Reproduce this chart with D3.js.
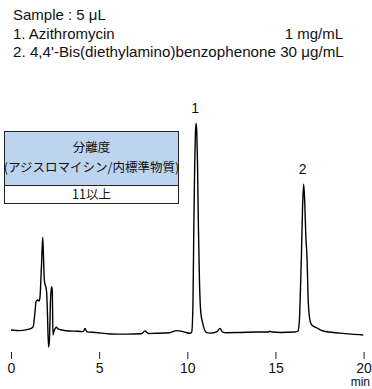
<!DOCTYPE html>
<html><head><meta charset="utf-8">
<script src="https://cdn.jsdelivr.net/npm/d3@7"></script>
<style>
html,body{margin:0;padding:0;background:#fff;}
svg{display:block;}
</style></head>
<body>
<script>
// ---- data ----
const sampleLines = ["Sample : 5 μL", "1. Azithromycin", "2. 4,4'-Bis(diethylamino)benzophenone 30 μg/mL"];
const sampleConc1 = "1 mg/mL";
const tableHeader = ["分離度", "(アジスロマイシン/内標準物質)"];
const tableValue = "11以上";
const xTicks = [0, 5, 10, 15, 20];
const xUnit = "min";
const peakLabels = ["1", "2"];
const peakTimes = [10.5, 16.6];
const peakHeights = [100, 70.5];
// chromatogram trace: retention time (min), signal (arbitrary units)
const times = [0, 0.5, 0.9, 1.15, 1.26, 1.36, 1.42, 1.51, 1.59, 1.64, 1.73, 1.80, 1.84, 1.89, 2.02, 2.07, 2.13, 2.18, 2.24, 2.30, 2.34, 2.38, 2.44, 2.50, 2.58, 2.67, 2.89, 3.3, 3.8, 4.1, 4.2, 4.3, 4.8, 5.62, 6.5, 7.4, 7.6, 7.8, 8.2, 9.0, 9.4, 9.8, 10.15, 10.25, 10.32, 10.37, 10.42, 10.46, 10.50, 10.54, 10.58, 10.63, 10.69, 10.76, 10.87, 11.1, 11.3, 11.7, 11.85, 12.0, 12.23, 13.0, 14.0, 14.6, 14.69, 14.8, 15.3, 16.11, 16.28, 16.36, 16.42, 16.48, 16.54, 16.60, 16.66, 16.72, 16.79, 16.86, 16.95, 17.06, 17.35, 17.71, 18.66, 19.3, 19.98];
const signal = [0, -0.3, 0.2, 0.8, 1.6, 8.7, 13.7, 14.5, 14.0, 15.5, 31.4, 44.9, 36.2, 24.2, 18.5, 7.2, -8.2, -4.8, 14.5, 20.9, 19.3, -2.4, -0.5, 0.7, 1.3, 0.5, 0, -0.5, -0.6, -0.8, 0.8, -0.9, -1.2, -1.9, -2.0, -1.8, -0.5, -1.7, -1.6, -1.3, -0.3, -0.9, -1.6, -1.0, 12, 50, 80, 95, 100, 95, 80, 50, 24, 9, 3.4, -1.3, -1.5, -0.8, 0.8, -1.0, -1.3, -1.2, -1.0, -1.0, -0.6, -1.0, -1.2, -1.0, -0.5, 5, 20, 38, 60, 70.5, 62, 46, 35, 14, 5, 2.4, 1.0, -0.5, -1.5, -2.0, -2.4];

const W = 372, H = 389;
const svg = d3.select("body").append("svg").attr("width", W).attr("height", H);
const font = "'Liberation Sans', Arial, Helvetica, sans-serif";
const cjk = "'Noto Sans CJK JP', 'Noto Sans', sans-serif";

const x = d3.scaleLinear().domain([0, 20]).range([11, 363.6]);
const y = d3.scaleLinear().domain([0, 100]).range([330, 123.3]);

// header text
const hdr = svg.append("g").attr("font-family", font).attr("font-size", 15).attr("fill", "#111");
hdr.append("text").attr("x", 13).attr("y", 20).text(sampleLines[0]);
hdr.append("text").attr("x", 13).attr("y", 38.5).text(sampleLines[1]);
hdr.append("text").attr("x", 343).attr("y", 38.5).attr("text-anchor", "end").text(sampleConc1);
hdr.append("text").attr("x", 13).attr("y", 57).attr("font-size", 15.2).text(sampleLines[2]);

// table
const tb = svg.append("g");
const tx0 = 4.5, tx1 = 178.5, ty0 = 131.5, ty1 = 185.5, ty2 = 203.5;
tb.append("rect").attr("x", tx0).attr("y", ty0).attr("width", tx1 - tx0).attr("height", ty1 - ty0)
  .attr("fill", "#bcd4ee").attr("stroke", "#222").attr("stroke-width", 1);
tb.append("rect").attr("x", tx0).attr("y", ty1).attr("width", tx1 - tx0).attr("height", ty2 - ty1)
  .attr("fill", "#fff").attr("stroke", "#222").attr("stroke-width", 1);
const tcx = (tx0 + tx1) / 2;
tb.append("text").attr("x", tcx).attr("y", 152).attr("text-anchor", "middle")
  .attr("font-family", cjk).attr("font-size", 12.5).attr("fill", "#111").text(tableHeader[0]);
tb.append("text").attr("x", tcx).attr("y", 172).attr("text-anchor", "middle")
  .attr("font-family", cjk).attr("font-size", 12.5).attr("fill", "#111").text(tableHeader[1]);
tb.append("text").attr("x", tcx).attr("y", 199).attr("text-anchor", "middle")
  .attr("font-family", cjk).attr("font-size", 12.5).attr("fill", "#111").text(tableValue);

// trace
const pts = times.map((t, i) => [t, signal[i]]);
const line = d3.line().x(d => x(d[0])).y(d => y(d[1])).curve(d3.curveMonotoneX);
svg.append("path").datum(pts).attr("d", line).attr("fill", "none")
  .attr("stroke", "#000").attr("stroke-width", 1.4).attr("stroke-linejoin", "round");

// peak labels
svg.append("g").selectAll("text").data(peakLabels).join("text")
  .attr("x", (d, i) => x(peakTimes[i]) - 1)
  .attr("y", (d, i) => y(peakHeights[i]) - 10)
  .attr("text-anchor", "middle").attr("font-family", font).attr("font-size", 14).attr("fill", "#111")
  .text(d => d);

// x axis
const ax = svg.append("g").attr("transform", "translate(0,352)")
  .call(d3.axisBottom(x).tickValues(xTicks).tickSize(7).tickFormat(d3.format("d")));
ax.select(".domain").remove();
ax.selectAll(".tick line").attr("stroke", "#222").attr("stroke-width", 1);
ax.selectAll(".tick text").attr("y", 20.5).attr("dy", 0).attr("font-family", font).attr("font-size", 14).attr("fill", "#111");
svg.append("text").attr("x", 370).attr("y", 386).attr("text-anchor", "end")
  .attr("font-family", font).attr("font-size", 12).attr("fill", "#111").text(xUnit);
</script>
</body></html>
